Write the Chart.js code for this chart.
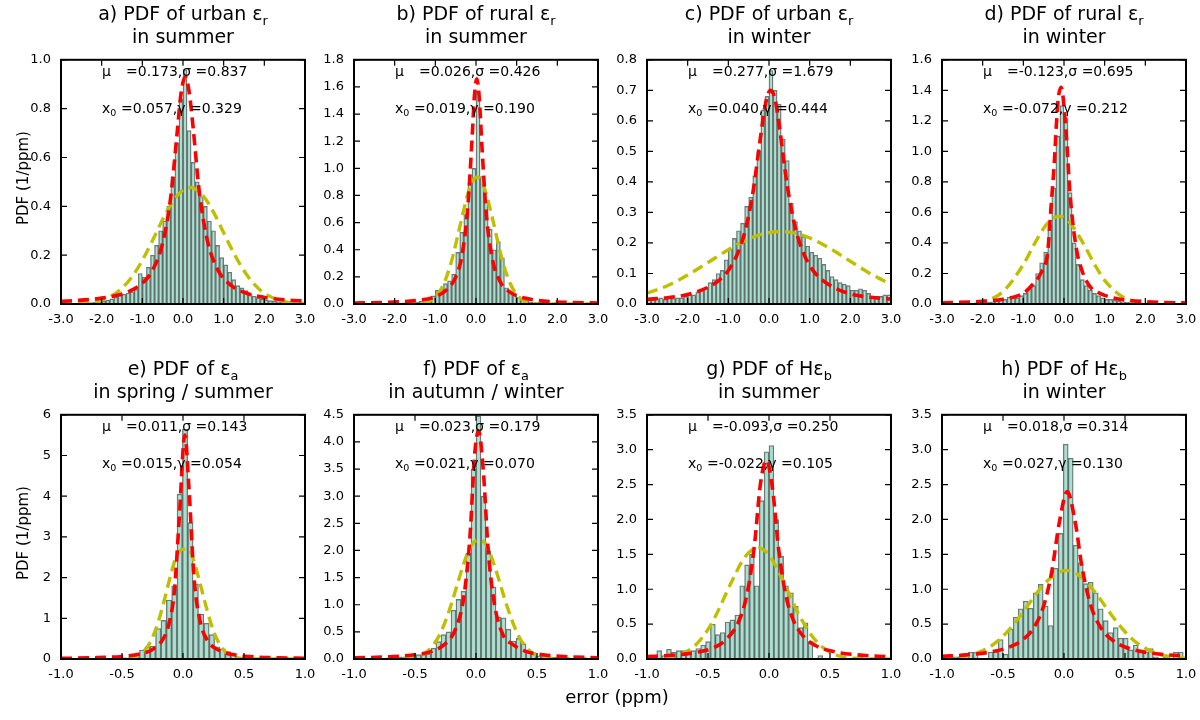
<!DOCTYPE html>
<html><head><meta charset="utf-8">
<script src="https://cdn.jsdelivr.net/npm/chart.js@4.4.1/dist/chart.umd.min.js"></script>
<style>
body{margin:0;background:#fff;width:1200px;height:720px;overflow:hidden;position:relative;font-family:'DejaVu Sans',sans-serif;color:#000;}
canvas{position:absolute;}
.ttl{position:absolute;text-align:center;font-size:19px;line-height:23px;white-space:nowrap;}
.ann{position:absolute;font-size:14px;line-height:16px;white-space:nowrap;}
.sym{display:inline-block;width:24px;}
.sym2{display:inline-block;width:19px;}
sub{font-size:68%;vertical-align:-0.35em;line-height:0;}
.ylab{position:absolute;font-size:15px;width:140px;text-align:center;transform:rotate(-90deg);white-space:nowrap;}
.xlab{position:absolute;font-size:18px;line-height:22px;width:200px;text-align:center;}
</style></head><body>
<script>
// ---------------- DATA ----------------
const titles = [
  'a) PDF of urban ε<sub>r</sub><br>in summer',
  'b) PDF of rural ε<sub>r</sub><br>in summer',
  'c) PDF of urban ε<sub>r</sub><br>in winter',
  'd) PDF of rural ε<sub>r</sub><br>in winter',
  'e) PDF of ε<sub>a</sub><br>in spring / summer',
  'f) PDF of ε<sub>a</sub><br>in autumn / winter',
  'g) PDF of Hε<sub>b</sub><br>in summer',
  'h) PDF of Hε<sub>b</sub><br>in winter'
];
const muText    = ['0.173','0.026','0.277','-0.123','0.011','0.023','-0.093','0.018'];
const sigmaText = ['0.837','0.426','1.679','0.695','0.143','0.179','0.250','0.314'];
const x0Text    = ['0.057','0.019','0.040','-0.072','0.015','0.021','-0.022','0.027'];
const gammaText = ['0.329','0.190','0.444','0.212','0.054','0.070','0.105','0.130'];

const yMaxes  = [1.0, 1.8, 0.8, 1.6, 6, 4.5, 3.5, 3.5];
const yStepsV = [0.2, 0.2, 0.1, 0.2, 1, 0.5, 0.5, 0.5];
const yDecs   = [1, 1, 1, 1, 0, 1, 1, 1];
const xRanges = [[-3,3],[-3,3],[-3,3],[-3,3],[-1,1],[-1,1],[-1,1],[-1,1]];
const xStepsV = [1, 1, 1, 1, 0.5, 0.5, 0.5, 0.5];

const binStarts = [-3.0, -3.0, -3.0, -3.0, -1.017, -1.025, -1.0, -1.0315];
const binWidths = [0.1, 0.1, 0.1, 0.1, 0.044, 0.041, 0.04, 0.041];

const histA = [0.002,0.002,0.003,0.003,0.004,0.004,0.005,0.006,0.007,0.009,
 0.012,0.016,0.021,0.028,0.035,0.040,0.045,0.050,0.060,0.125,
 0.11,0.15,0.20,0.24,0.30,0.34,0.40,0.52,0.66,0.84,
 0.96,0.71,0.58,0.50,0.44,0.40,0.34,0.30,0.24,0.19,
 0.16,0.13,0.10,0.075,0.066,0.055,0.042,0.032,0.025,0.020,
 0.017,0.014,0.012,0.010,0.009,0.008,0.007,0.006,0.005,0.005];
const histB = [0.002,0.002,0.002,0.002,0.003,0.003,0.003,0.004,0.004,0.005,
 0.006,0.007,0.008,0.010,0.012,0.015,0.020,0.030,0.040,0.060,
 0.10,0.11,0.15,0.17,0.22,0.38,0.53,0.66,0.90,1.00,
 1.57,0.94,0.76,0.55,0.40,0.46,0.34,0.12,0.09,0.07,
 0.05,0.035,0.02,0.015,0.01,0.008,0.006,0.005,0.004,0.004,
 0.003,0.003,0.003,0.002,0.002,0.002,0.002,0.001,0.001,0.001];
const histC = [0.015,0.015,0.018,0.020,0.015,0.020,0.018,0.020,0.020,0.025,
 0.030,0.030,0.040,0.045,0.055,0.070,0.080,0.100,0.110,0.145,
 0.18,0.215,0.24,0.265,0.32,0.35,0.42,0.50,0.635,0.68,
 0.765,0.70,0.655,0.54,0.47,0.33,0.27,0.24,0.22,0.19,
 0.17,0.16,0.15,0.13,0.11,0.09,0.08,0.07,0.065,0.06,
 0.045,0.045,0.05,0.045,0.035,0.025,0.025,0.025,0.03,0.03];
const histD = [0.003,0.003,0.003,0.004,0.004,0.005,0.005,0.006,0.007,0.008,
 0.010,0.012,0.015,0.020,0.025,0.030,0.045,0.045,0.040,0.055,
 0.07,0.10,0.12,0.20,0.27,0.34,0.52,0.76,1.10,1.30,
 1.22,0.73,0.40,0.26,0.16,0.12,0.09,0.07,0.055,0.04,
 0.03,0.03,0.025,0.02,0.015,0.012,0.01,0.008,0.007,0.006,
 0.005,0.005,0.004,0.004,0.003,0.003,0.003,0.002,0.002,0.002];
const histE = [0.0,0.005,0.005,0.005,0.01,0.01,0.01,0.01,0.015,0.015,0.02,
 0.02,0.03,0.12,0.09,0.22,0.30,0.32,0.75,0.95,1.45,1.8,4.05,5.65,3.35,1.85,1.1,0.88,0.6,0.30,0.25,0.18,0.10,0.05,0.03,0.02,
 0.015,0.015,0.01,0.01,0.01,0.005,0.005,0.005,0.005,0.0];
const histF = [0.005,0.005,0.005,0.01,0.01,0.01,0.01,0.02,0.02,0.03,
 0.04,0.05,0.08,0.08,0.08,0.10,0.20,0.32,0.45,0.50,
 0.90,1.10,1.25,1.95,3.50,4.48,3.00,2.00,1.33,0.77,
 0.76,0.55,0.33,0.38,0.28,0.17,0.12,0.06,0.05,0.04,
 0.03,0.02,0.02,0.01,0.01,0.01,0.005,0.005,0.005,0.005];
const histG = [0.02,0.05,0.12,0.05,0.14,0.10,0.12,0.12,0.08,0.12,
 0.15,0.20,0.25,0.50,0.35,0.38,0.53,0.56,0.63,1.05,
 1.35,1.50,1.05,2.27,2.97,3.06,2.00,1.47,1.05,0.95,
 0.76,0.45,0.52,0.25,0.0,0.05,0,0,0,0,
 0,0,0,0,0,0,0,0,0,0];
const histH = [0,0,0.03,0.03,0.03,0,0.10,0.10,0,0,
 0.10,0.10,0.28,0.07,0.43,0.60,0.72,0.83,0.73,0.95,
 1.07,0.76,0.48,1.30,1.80,3.08,2.88,1.63,1.38,1.08,
 1.10,0.95,0.72,0.55,0.38,0.45,0.30,0.30,0.13,0.20,
 0.10,0.10,0.15,0.03,0,0.03,0,0.10,0.10,0];

// Gaussian fit curves (yellow)
const gaussXA = [-3,-2.5,-2,-1.75,-1.5,-1.25,-1,-0.75,-0.5,-0.25,0,0.173,0.25,0.5,0.75,1,1.25,1.5,1.75,2,2.5,3];
const gaussYA = [0.0004,0.003,0.016,0.034,0.065,0.112,0.179,0.260,0.346,0.42,0.467,0.477,0.475,0.442,0.376,0.292,0.208,0.136,0.081,0.044,0.010,0.0016];
const gaussXB = [-3,-2,-1.5,-1.2,-1,-0.8,-0.6,-0.4,-0.2,-0.1,0.026,0.1,0.2,0.4,0.6,0.8,1,1.2,1.5,2,3];
const gaussYB = [0,0,0.0015,0.015,0.052,0.143,0.318,0.567,0.813,0.896,0.936,0.922,0.861,0.637,0.377,0.18,0.069,0.021,0.0024,0,0];
const gaussXC = [-3,-2.5,-2,-1.5,-1,-0.5,0,0.277,0.5,1,1.5,2,2.5,3];
const gaussYC = [0.0354,0.060,0.0947,0.136,0.178,0.2135,0.234,0.2376,0.2355,0.2166,0.182,0.140,0.0988,0.0638];
const gaussXD = [-3,-2.5,-2,-1.5,-1,-0.75,-0.5,-0.3,-0.123,0.05,0.2,0.5,0.75,1,1.5,2,2.5,3];
const gaussYD = [0,0.0017,0.015,0.081,0.259,0.382,0.496,0.556,0.574,0.556,0.515,0.384,0.261,0.155,0.0375,0.0054,0.0005,0];
const gaussXE = [-1,-0.6,-0.45,-0.4,-0.3,-0.25,-0.2,-0.15,-0.1,-0.05,0.011,0.05,0.1,0.15,0.2,0.25,0.3,0.35,0.4,0.5,0.6,1];
const gaussYE = [0,0,0.0155,0.045,0.264,0.528,0.94,1.48,2.07,2.55,2.70,2.69,2.30,1.74,1.17,0.69,0.36,0.168,0.069,0.008,0,0];
const gaussXF = [-1,-0.65,-0.6,-0.5,-0.4,-0.3,-0.25,-0.2,-0.15,-0.1,-0.05,0.023,0.08,0.15,0.2,0.25,0.35,0.45,0.55,0.65,0.7,1];
const gaussYF = [0,0,0.0052,0.031,0.137,0.436,0.70,1.025,1.40,1.76,2.05,2.2,2.12,1.73,1.37,1.0,0.42,0.129,0.029,0.005,0,0];
const gaussXG = [-1,-0.8,-0.7,-0.6,-0.5,-0.45,-0.3,-0.2,-0.093,0,0.1,0.25,0.4,0.55,0.7,0.8,1];
const gaussYG = [0.0022,0.029,0.083,0.203,0.424,0.575,1.13,1.456,1.596,1.49,1.18,0.62,0.229,0.058,0.0104,0.0027,0];
const gaussXH = [-1,-0.8,-0.6,-0.45,-0.3,-0.225,-0.15,0.018,0.075,0.15,0.225,0.3,0.375,0.45,0.525,0.6,0.75,0.9,1];
const gaussYH = [0.0066,0.042,0.182,0.418,0.76,0.941,1.10,1.27,1.25,1.16,1.02,0.85,0.666,0.493,0.344,0.228,0.084,0.0247,0.0096];

// Cauchy fit curves (red)
const cauchyXA = [-3,-2.5,-2,-1.5,-1.2,-1,-0.75,-0.5,-0.3,-0.15,-0.05,0.057,0.15,0.25,0.4,0.6,0.85,1.2,1.6,2,2.5,3];
const cauchyYA = [0.011,0.016,0.024,0.041,0.062,0.085,0.138,0.25,0.44,0.69,0.86,0.93,0.87,0.72,0.46,0.26,0.142,0.074,0.042,0.027,0.017,0.012];
const cauchyXB = [-3,-2,-1.5,-1,-0.7,-0.5,-0.35,-0.2,-0.1,-0.04,0.019,0.08,0.15,0.25,0.4,0.6,0.8,1,1.5,2,3];
const cauchyYB = [0.0066,0.0146,0.025,0.054,0.11,0.198,0.35,0.72,1.20,1.53,1.66,1.52,1.14,0.675,0.335,0.162,0.094,0.061,0.027,0.015,0.0068];
const cauchyXC = [-3,-2.5,-2,-1.5,-1.2,-1,-0.8,-0.6,-0.4,-0.2,-0.08,0.04,0.15,0.25,0.45,0.65,0.85,1.1,1.5,2,2.5,3];
const cauchyYC = [0.015,0.0207,0.031,0.055,0.081,0.11,0.157,0.233,0.362,0.555,0.66,0.70,0.67,0.586,0.387,0.248,0.166,0.107,0.061,0.033,0.022,0.0158];
const cauchyXD = [-3,-2,-1.5,-1,-0.75,-0.55,-0.4,-0.32,-0.25,-0.15,-0.072,0.05,0.15,0.3,0.45,0.65,0.9,1.2,1.6,2,2.5,3];
const cauchyYD = [0.0078,0.0177,0.0316,0.0708,0.134,0.212,0.342,0.633,0.88,1.32,1.42,1.13,0.714,0.368,0.213,0.11,0.068,0.0405,0.0234,0.0154,0.0102,0.0071];
const cauchyXE = [-1,-0.75,-0.5,-0.35,-0.25,-0.17,-0.12,-0.07,-0.03,0.015,0.05,0.09,0.14,0.2,0.3,0.4,0.55,0.75,1];
const cauchyYE = [0.0166,0.029,0.063,0.123,0.235,0.46,0.81,1.69,3.49,5.5,4.14,2.01,0.93,0.46,0.204,0.114,0.059,0.032,0.0177];
const cauchyXF = [-1,-0.7,-0.5,-0.35,-0.25,-0.17,-0.1,-0.05,-0.01,0.021,0.06,0.1,0.15,0.22,0.3,0.4,0.55,0.75,1];
const cauchyYF = [0.021,0.042,0.079,0.151,0.284,0.54,1.14,2.24,3.8,4.2,3.47,2.0,1.03,0.45,0.27,0.145,0.077,0.042,0.023];
const cauchyXG = [-1,-0.8,-0.6,-0.45,-0.35,-0.25,-0.18,-0.12,-0.07,-0.022,0.03,0.08,0.14,0.2,0.28,0.38,0.5,0.7,1];
const cauchyYG = [0.0345,0.053,0.094,0.163,0.282,0.53,0.93,1.62,2.51,2.85,2.43,1.56,0.90,0.554,0.327,0.194,0.118,0.063,0.032];
const cauchyXH = [-1,-0.8,-0.6,-0.45,-0.35,-0.25,-0.17,-0.1,-0.04,0.027,0.09,0.15,0.22,0.3,0.4,0.5,0.65,0.8,1];
const cauchyYH = [0.0386,0.059,0.101,0.169,0.26,0.442,0.743,1.254,1.94,2.4,1.98,1.293,0.764,0.453,0.265,0.172,0.102,0.067,0.043];

const hists   = [histA,histB,histC,histD,histE,histF,histG,histH];
const gaussXs = [gaussXA,gaussXB,gaussXC,gaussXD,gaussXE,gaussXF,gaussXG,gaussXH];
const gaussYs = [gaussYA,gaussYB,gaussYC,gaussYD,gaussYE,gaussYF,gaussYG,gaussYH];
const cauchyXs= [cauchyXA,cauchyXB,cauchyXC,cauchyXD,cauchyXE,cauchyXF,cauchyXG,cauchyXH];
const cauchyYs= [cauchyYA,cauchyYB,cauchyYC,cauchyYD,cauchyYE,cauchyYF,cauchyYG,cauchyYH];

// ---------------- LAYOUT ----------------
const plotLefts = [61, 354, 647, 942];
const plotTops = [52, 407];
const PW = 244, PH = 252;
const ML = 50, MR = 22, MT = 10, MB = 32;

Chart.defaults.font.family = "'DejaVu Sans', sans-serif";
Chart.defaults.font.size = 13;
Chart.defaults.color = '#000';

const framePlugin = {
  id: 'frame',
  afterDraw(chart) {
    const {ctx, chartArea: a, scales: {x, y}} = chart;
    ctx.save();
    ctx.strokeStyle = '#000';
    ctx.lineWidth = 1.2;
    ctx.beginPath();
    x.ticks.forEach(t => {
      const px = x.getPixelForValue(t.value);
      ctx.moveTo(px, a.bottom); ctx.lineTo(px, a.bottom - 6);
      ctx.moveTo(px, a.top); ctx.lineTo(px, a.top + 6);
    });
    y.ticks.forEach(t => {
      const py = y.getPixelForValue(t.value);
      ctx.moveTo(a.left, py); ctx.lineTo(a.left + 6, py);
      ctx.moveTo(a.right, py); ctx.lineTo(a.right - 6, py);
    });
    ctx.stroke();
    ctx.lineWidth = 2;
    ctx.strokeRect(a.left, a.top, a.right - a.left, a.bottom - a.top);
    ctx.restore();
  }
};

function addDiv(cls, html, left, top, extra) {
  const d = document.createElement('div');
  d.className = cls; d.innerHTML = html;
  d.style.left = left + 'px'; d.style.top = top + 'px';
  if (extra) Object.assign(d.style, extra);
  document.body.appendChild(d);
  return d;
}

for (let p = 0; p < 8; p++) {
  const col = p % 4, row = Math.floor(p / 4);
  const pl = plotLefts[col], pt = plotTops[row];
  const cv = document.createElement('canvas');
  cv.width = PW + ML + MR; cv.height = PH + MT + MB;
  cv.style.left = (pl - ML) + 'px'; cv.style.top = (pt - MT) + 'px';
  document.body.appendChild(cv);

  const bars = hists[p].map((v, i) => ({x: binStarts[p] + (i + 0.5) * binWidths[p], y: v}));
  const gauss = gaussXs[p].map((xv, i) => ({x: xv, y: gaussYs[p][i]}));
  const cauchy = cauchyXs[p].map((xv, i) => ({x: xv, y: cauchyYs[p][i]}));
  const dec = yDecs[p];

  new Chart(cv, {
    type: 'bar',
    data: { datasets: [
      {type: 'line', data: cauchy, borderColor: '#ff0000', borderWidth: 3.6, borderDash: [11, 6],
       pointRadius: 0, fill: false, cubicInterpolationMode: 'monotone', order: 0},
      {type: 'line', data: gauss, borderColor: '#bfbf00', borderWidth: 3.4, borderDash: [11, 6],
       pointRadius: 0, fill: false, cubicInterpolationMode: 'monotone', order: 1},
      {type: 'bar', data: bars, backgroundColor: 'rgb(170,224,208)', borderColor: 'rgba(45,70,64,0.7)',
       borderWidth: 1.4, barPercentage: 1, categoryPercentage: 1, order: 2}
    ]},
    options: {
      responsive: false, animation: false, devicePixelRatio: 1,
      layout: {padding: {left: 0, right: MR, top: MT, bottom: 0}},
      plugins: {legend: {display: false}, tooltip: {enabled: false}, title: {display: false}},
      scales: {
        x: {type: 'linear', min: xRanges[p][0], max: xRanges[p][1], offset: false,
            grid: {display: false, drawTicks: false, tickLength: 0, offset: false}, border: {display: false},
            ticks: {stepSize: xStepsV[p], padding: 8, autoSkip: false, maxRotation: 0,
                    callback: v => v.toFixed(1)},
            afterFit: s => { s.height = MB; }},
        y: {type: 'linear', min: 0, max: yMaxes[p],
            grid: {display: false, drawTicks: false, tickLength: 0}, border: {display: false},
            ticks: {stepSize: yStepsV[p], padding: 10, autoSkip: false,
                    callback: v => v.toFixed(dec)},
            afterFit: s => { s.width = ML; }}
      }
    },
    plugins: [framePlugin]
  });

  addDiv('ttl', titles[p], pl + PW / 2 - 150, pt - 50, {width: '300px'});
  addDiv('ann', '<span class="sym">μ</span>=' + muText[p] + ',σ =' + sigmaText[p], pl + 41, pt + 11);
  addDiv('ann', '<span class="sym2">x<sub>0</sub></span>=' + x0Text[p] + ',γ =' + gammaText[p], pl + 41, pt + 48);
}

addDiv('ylab', 'PDF (1/ppm)', 23 - 70, 178 - 9);
addDiv('ylab', 'PDF (1/ppm)', 23 - 70, 533 - 9);
addDiv('xlab', 'error (ppm)', 617 - 100, 686);
</script>
</body></html>
